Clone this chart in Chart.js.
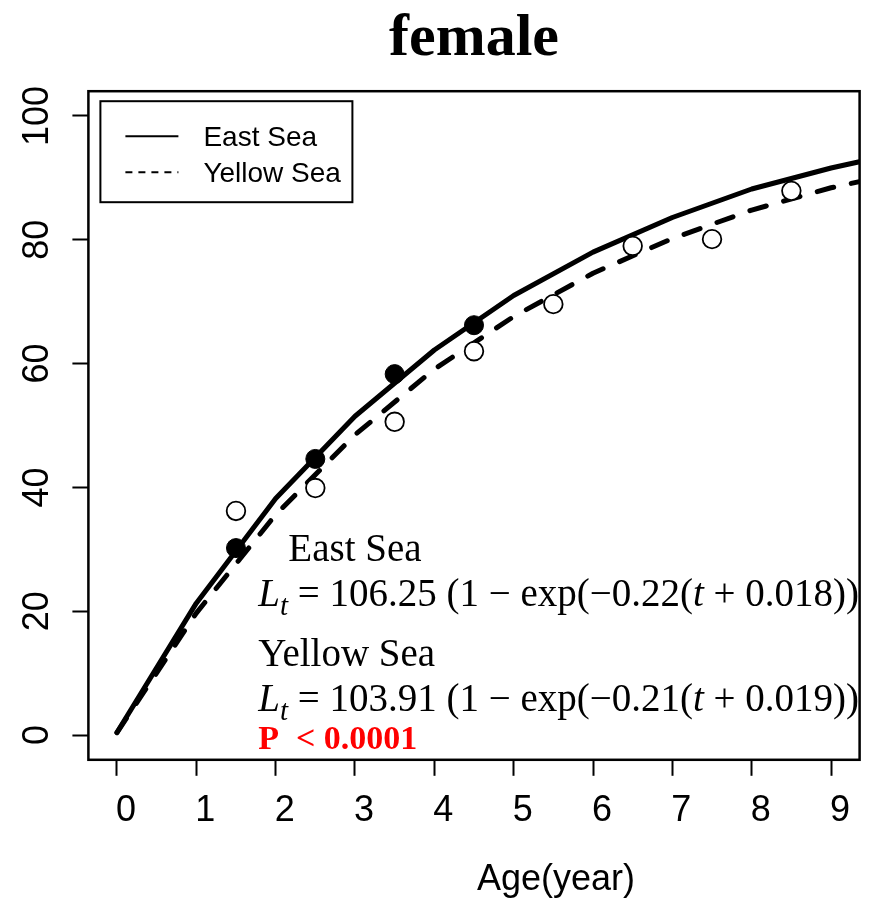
<!DOCTYPE html>
<html>
<head>
<meta charset="utf-8">
<script src="https://cdn.jsdelivr.net/npm/chart.js@4.4.1/dist/chart.umd.min.js"></script>
<style>
    html, body { margin: 0; padding: 0; background: #fff; }
    canvas { display: block; }
</style>
</head>
<body>
<canvas id="growthChart" width="876" height="909"></canvas>
<script>
// Female growth curves (von Bertalanffy) for the two seas, with mean length at age

// fitted curves, evaluated at whole ages
const ageGrid = [0, 1, 2, 3, 4, 5, 6, 7, 8, 9, 10];
const eastFit = [0.4, 21.3, 38.2, 51.5, 62.2, 71.0, 78.0, 83.6, 88.2, 91.6, 94.4];
const yellowFit = [0.4, 19.7, 35.6, 48.5, 59.1, 67.6, 74.6, 80.2, 84.8, 88.4, 91.2];

// observed means
const eastAge = [1.5, 2.5, 3.5, 4.5];
const eastObs = [30.2, 44.6, 58.3, 66.2];
const yellowAge = [1.5, 2.5, 3.5, 4.5, 5.5, 6.5, 7.5, 8.5];
const yellowObs = [36.2, 39.9, 50.6, 62.0, 69.6, 79.0, 80.1, 87.9];

const xTicks = [0, 1, 2, 3, 4, 5, 6, 7, 8, 9];
const yTicks = [0, 20, 40, 60, 80, 100];
const seriesNames = ['East Sea', 'Yellow Sea'];
const eqParams = [
    { linf: '106.25', k: '0.22', t0: '0.018' },
    { linf: '103.91', k: '0.21', t0: '0.019' }
];
const pLabel = 'P  < 0.0001';

const SANS = "'Liberation Sans', Arial, sans-serif";
const SERIF = "'Liberation Serif', 'Times New Roman', serif";

function toXY(xs, ys) {
    return xs.map((x, i) => ({ x: x, y: ys[i] }));
}

// ============================================
// DRAWING HELPERS (box, legend, notes)
// ============================================

function drawRuns(ctx, runs, x, y) {
    for (let i = 0; i < runs.length; i++) {
        const r = runs[i];
        ctx.font = r.font;
        ctx.fillText(r.text, x, y + (r.dy || 0));
        x += ctx.measureText(r.text).width;
    }
}

function equationRuns(p) {
    const sz = 39;
    const up = sz + 'px ' + SERIF;
    const it = 'italic ' + sz + 'px ' + SERIF;
    return [
        { text: 'L', font: it },
        { text: 't', font: 'italic 29px ' + SERIF, dy: 9 },
        { text: ' = ' + p.linf + ' (1 \u2212 exp(\u2212' + p.k + '(', font: up },
        { text: 't', font: it },
        { text: ' + ' + p.t0 + '))', font: up }
    ];
}

const rDecor = {
    id: 'rDecor',
    afterDraw(chart) {
        const ctx = chart.ctx;
        const a = chart.chartArea;
        const xs = chart.scales.x;
        const ys = chart.scales.y;
        ctx.save();
        ctx.fillStyle = '#000';
        ctx.strokeStyle = '#000';

        // plot frame
        ctx.lineWidth = 2.5;
        ctx.strokeRect(a.left, a.top, a.right - a.left, a.bottom - a.top);

        // legend
        const lx = a.left + 12, ly = a.top + 10;
        ctx.lineWidth = 2;
        ctx.strokeRect(lx, ly, 252, 101);
        const rows = [ly + 35, ly + 71];
        const dashes = [[], [7, 6]];
        for (let i = 0; i < seriesNames.length; i++) {
            ctx.setLineDash(dashes[i]);
            ctx.beginPath();
            ctx.moveTo(lx + 25, rows[i]);
            ctx.lineTo(lx + 78, rows[i]);
            ctx.stroke();
        }
        ctx.setLineDash([]);
        ctx.font = '28px ' + SANS;
        ctx.textBaseline = 'middle';
        ctx.textAlign = 'left';
        for (let i = 0; i < seriesNames.length; i++) {
            ctx.fillText(seriesNames[i], lx + 103, rows[i] + 2);
        }

        // model notes
        ctx.textBaseline = 'alphabetic';
        const left = xs.getPixelForValue(1.78);
        ctx.font = '39px ' + SERIF;
        ctx.fillText(seriesNames[0], xs.getPixelForValue(2.16), ys.getPixelForValue(28.1));
        drawRuns(ctx, equationRuns(eqParams[0]), left, ys.getPixelForValue(20.8));
        ctx.font = '39px ' + SERIF;
        ctx.fillText(seriesNames[1], left, ys.getPixelForValue(11.1));
        drawRuns(ctx, equationRuns(eqParams[1]), left, ys.getPixelForValue(3.9));
        ctx.fillStyle = '#ff0000';
        ctx.font = 'bold 34px ' + SERIF;
        ctx.fillText(pLabel, left, ys.getPixelForValue(-2.3));

        // x axis title
        ctx.fillStyle = '#000';
        ctx.font = '36px ' + SANS;
        ctx.textAlign = 'center';
        ctx.textBaseline = 'middle';
        ctx.fillText('Age(year)', 556, 880);
        ctx.restore();
    }
};

// ============================================
// CHART
// ============================================

const ctx = document.getElementById('growthChart').getContext('2d');

new Chart(ctx, {
    type: 'scatter',
    data: {
        datasets: [
            {
                label: seriesNames[0] + ' fit',
                data: toXY(ageGrid, eastFit),
                showLine: true,
                borderColor: '#000',
                borderWidth: 5,
                borderJoinStyle: 'round',
                borderCapStyle: 'round',
                pointRadius: 0,
                tension: 0,
                clip: 0,
                order: 2
            },
            {
                label: seriesNames[1] + ' fit',
                data: toXY(ageGrid, yellowFit),
                showLine: true,
                borderColor: '#000',
                borderWidth: 5,
                borderDash: [17, 18],
                borderCapStyle: 'round',
                borderJoinStyle: 'round',
                pointRadius: 0,
                tension: 0,
                clip: 0,
                order: 2
            },
            {
                label: seriesNames[0],
                data: toXY(eastAge, eastObs),
                pointRadius: 9.5,
                pointBackgroundColor: '#000',
                pointBorderColor: '#000',
                pointBorderWidth: 1,
                order: 1
            },
            {
                label: seriesNames[1],
                data: toXY(yellowAge, yellowObs),
                pointRadius: 9.3,
                pointBackgroundColor: '#fff',
                pointBorderColor: '#000',
                pointBorderWidth: 1.8,
                order: 1
            }
        ]
    },
    options: {
        responsive: false,
        animation: false,
        events: [],
        layout: { padding: { left: 0, right: 16.4, top: 0, bottom: 0 } },
        plugins: {
            legend: { display: false },
            tooltip: { enabled: false },
            title: {
                display: true,
                text: 'female',
                fullSize: false,
                color: '#000',
                font: { family: SERIF, size: 60, weight: 'bold' },
                padding: { top: 3, bottom: 16.2 }
            }
        },
        scales: {
            x: {
                type: 'linear',
                min: -0.36,
                max: 9.36,
                afterBuildTicks: (s) => { s.ticks = xTicks.map(v => ({ value: v })); },
                afterFit: (s) => { s.height = 149.2; },
                border: { display: false },
                grid: { drawOnChartArea: false, tickLength: 16, tickColor: '#000', tickWidth: 2 },
                ticks: {
                    color: '#000',
                    padding: 14,
                    labelOffset: 9,
                    maxRotation: 0,
                    font: { family: SANS, size: 36 }
                }
            },
            y: {
                type: 'linear',
                min: -4,
                max: 104,
                afterBuildTicks: (s) => { s.ticks = yTicks.map(v => ({ value: v })); },
                afterFit: (s) => { s.width = 88.4; },
                border: { display: false },
                grid: { drawOnChartArea: false, tickLength: 16, tickColor: '#000', tickWidth: 2 },
                ticks: {
                    color: '#000',
                    padding: 4,
                    minRotation: 90,
                    maxRotation: 90,
                    crossAlign: 'center',
                    font: { family: SANS, size: 36 }
                }
            }
        }
    },
    plugins: [rDecor]
});
</script>
</body>
</html>
